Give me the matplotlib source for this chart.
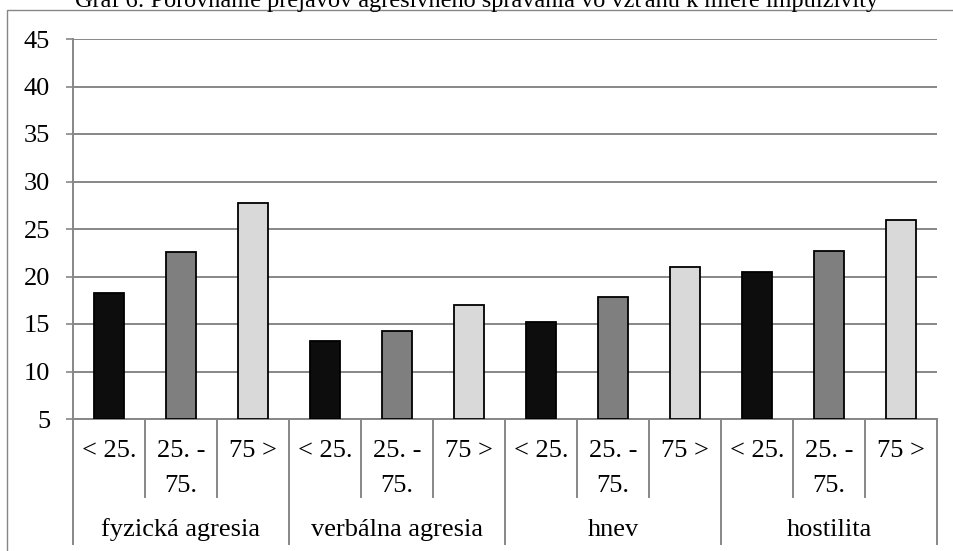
import matplotlib
matplotlib.use("Agg")
import matplotlib.pyplot as plt
from matplotlib.patches import Rectangle

plt.rcParams['font.family'] = ['Liberation Serif', 'DejaVu Serif']

title = "Graf 6: Porovnanie prejavov agresívneho správania vo vzťahu k miere impulzivity"
groups = ["fyzická agresia", "verbálna agresia", "hnev", "hostilita"]
sub_labels = ["< 25.", "25. -\n75.", "75 >"]
series_low = [18.3, 13.2, 15.2, 20.5]
series_mid = [22.6, 14.3, 17.8, 22.7]
series_high = [27.7, 17.0, 21.0, 25.9]
yticks = [5, 10, 15, 20, 25, 30, 35, 40, 45]

colors = ["#0d0d0d", "#7f7f7f", "#d9d9d9"]
grid_c = "#878787"
W, H = 954, 551
FS = 19

fig = plt.figure(figsize=(W / 100, H / 100), dpi=100)
fig.patch.set_facecolor("white")

# outer chart frame
fig.add_artist(Rectangle((7 / W, -0.2), 1.2, 1 - 10 / H + 0.2, transform=fig.transFigure,
                         fill=False, edgecolor=grid_c, linewidth=1.0, zorder=0))

ax = fig.add_axes([73 / W, 1 - 419 / H, (937 - 73) / W, (419 - 39) / H])
ax.set_facecolor("none")
ax.set_ylim(5, 45)
ax.set_xlim(0, 12)

ax.set_yticks(yticks)
ax.set_yticklabels([str(v) for v in yticks], fontsize=FS)
ax.tick_params(axis='y', length=5, width=1.2, color=grid_c, pad=11.5)
ax.set_xticks([])
ax.yaxis.grid(True, color=grid_c, linewidth=1.4)
ax.set_axisbelow(True)
for s in ["top", "right", "left"]:
    ax.spines[s].set_visible(False)
ax.spines["bottom"].set_color(grid_c)
ax.spines["bottom"].set_linewidth(1.4)

all_series = [series_low, series_mid, series_high]
for si, vals in enumerate(all_series):
    xs = [g * 3 + si + 0.5 for g in range(len(groups))]
    ax.bar(xs, [v - 5 for v in vals], bottom=5, width=0.41, color=colors[si],
           edgecolor="black", linewidth=1.3, zorder=3)

tr = ax.get_xaxis_transform()
y_inner = (419 - 497) / 380
y_group = (419 - 544) / 380
# left axis line and separators
ax.plot([0, 0], [1, y_group], transform=tr, color=grid_c, lw=1.4, clip_on=False)
for k in range(1, 13):
    bottom = y_group if k % 3 == 0 else y_inner
    ax.plot([k, k], [0, bottom], transform=tr, color=grid_c, lw=1.4, clip_on=False)

line1_y = (419 - 451) / 380
line_gap = 35 / 380
for g in range(len(groups)):
    for si, lab in enumerate(sub_labels):
        for li, part in enumerate(lab.split("\n")):
            ax.text(g * 3 + si + 0.5, line1_y - li * line_gap, part, transform=tr,
                    ha="center", va="center", fontsize=FS)
    ax.text(g * 3 + 1.5, (419 - 530) / 380, groups[g], transform=tr,
            ha="center", va="center", fontsize=FS)

fig.text(0.5, 1 - 7 / H, title, ha="center", va="baseline", fontsize=17.5)

fig.savefig("out.png", dpi=100)
